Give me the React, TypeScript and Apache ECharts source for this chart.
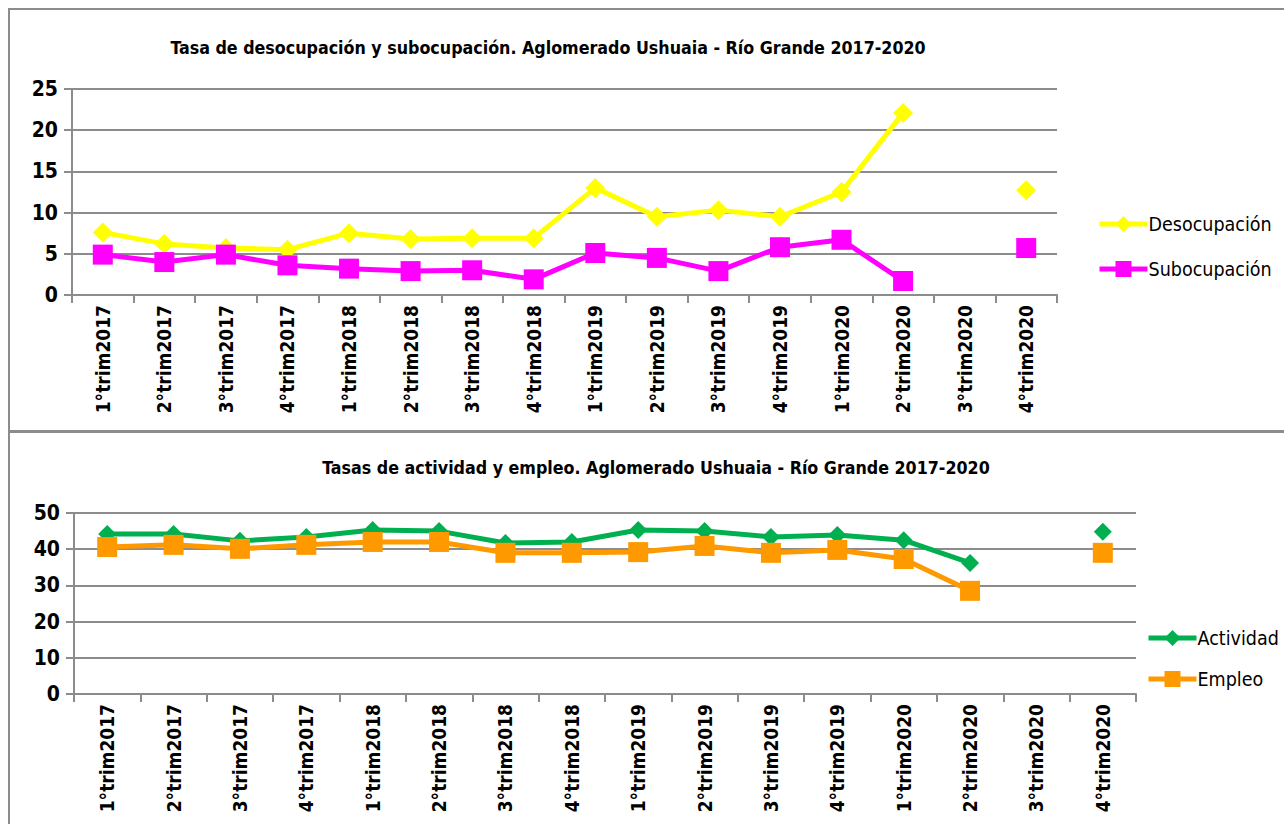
import React, { useEffect, useRef } from "react";
import * as echarts from "echarts";

const categories = [
  "1°trim2017", "2°trim2017", "3°trim2017", "4°trim2017",
  "1°trim2018", "2°trim2018", "3°trim2018", "4°trim2018",
  "1°trim2019", "2°trim2019", "3°trim2019", "4°trim2019",
  "1°trim2020", "2°trim2020", "3°trim2020", "4°trim2020",
];
const desocupacion = [7.6, 6.2, 5.7, 5.5, 7.5, 6.8, 6.9, 6.9, 13.0, 9.5, 10.3, 9.5, 12.5, 22.1, null, 12.7];
const subocupacion = [4.9, 4.0, 4.9, 3.6, 3.2, 2.9, 3.0, 1.9, 5.1, 4.5, 2.9, 5.8, 6.7, 1.7, null, 5.7];
const actividad = [44.2, 44.2, 42.3, 43.4, 45.3, 45.0, 41.7, 42.0, 45.3, 45.0, 43.4, 43.9, 42.5, 36.2, null, 44.8];
const empleo = [40.6, 41.2, 40.1, 41.2, 42.0, 42.0, 39.0, 39.0, 39.2, 40.9, 39.0, 39.8, 37.3, 28.5, null, 39.0];
const topTicks = [0, 5, 10, 15, 20, 25];
const bottomTicks = [0, 10, 20, 30, 40, 50];

const FONT = "'Liberation Sans Narrow', 'DejaVu Sans Condensed', 'Roboto', sans-serif";
const GRID_COLOR = "#8c8c8c";

export default function App() {
  const ref = useRef<HTMLDivElement>(null);
  useEffect(() => {
    if (!ref.current) return;
    const chart = echarts.init(ref.current, undefined, { renderer: "svg" });
    const xAxisBase = (gridIndex: number) => ({
      type: "category",
      gridIndex,
      data: categories,
      boundaryGap: true,
      axisLine: { show: true, lineStyle: { color: GRID_COLOR, width: 2 } },
      axisTick: { show: true, length: 8, lineStyle: { color: GRID_COLOR, width: 2 } },
      axisLabel: {
        rotate: 90,
        interval: 0,
        margin: 10,
        color: "#000",
        fontFamily: FONT,
        fontWeight: "bold",
        fontSize: 19,
      },
    });
    const yAxisBase = (gridIndex: number, ticks: number[]) => ({
      type: "value",
      gridIndex,
      min: ticks[0],
      max: ticks[ticks.length - 1],
      interval: ticks[1] - ticks[0],
      axisLine: { show: true, lineStyle: { color: GRID_COLOR, width: 2 } },
      axisTick: { show: true, length: 8, lineStyle: { color: GRID_COLOR, width: 2 } },
      splitLine: { show: true, lineStyle: { color: GRID_COLOR, width: 2 } },
      axisLabel: {
        color: "#000",
        fontFamily: FONT,
        fontWeight: "bold",
        fontSize: 21,
        margin: 14,
      },
    });
    const legendBase = {
      orient: "vertical",
      itemWidth: 48,
      itemHeight: 20,
      lineStyle: { width: 5 },
      textStyle: { fontFamily: FONT, fontSize: 19.5, color: "#000", padding: [0, 0, 0, -4] },
    };
    const option = {
      animation: false,
      backgroundColor: "#fff",
      title: [
        {
          text: "Tasa de desocupación y subocupación. Aglomerado Ushuaia - Río Grande 2017-2020",
          left: 543,
          top: 34,
          textAlign: "center",
          textStyle: { fontFamily: FONT, fontWeight: "bold", fontSize: 17.7, color: "#000" },
        },
        {
          text: "Tasas de actividad y empleo. Aglomerado Ushuaia - Río Grande 2017-2020",
          left: 651,
          top: 454,
          textAlign: "center",
          textStyle: { fontFamily: FONT, fontWeight: "bold", fontSize: 17.7, color: "#000" },
        },
      ],
      legend: [
        {
          ...legendBase,
          left: 1092,
          top: 209,
          itemGap: 25,
          data: ["Desocupación", "Subocupación"],
        },
        {
          ...legendBase,
          left: 1141,
          top: 623,
          itemGap: 21,
          data: ["Actividad", "Empleo"],
        },
      ],
      grid: [
        { left: 72, right: 227, top: 89, height: 206 },
        { left: 74, right: 148, top: 513, height: 181 },
      ],
      xAxis: [xAxisBase(0), xAxisBase(1)],
      yAxis: [yAxisBase(0, topTicks), yAxisBase(1, bottomTicks)],
      graphic: [
        {
          type: "rect",
          shape: { x: 9, y: 9, width: 1290, height: 422 },
          style: { fill: "none", stroke: "#8c8c8c", lineWidth: 2 },
          silent: true,
        },
        {
          type: "rect",
          shape: { x: 9, y: 432, width: 1290, height: 400 },
          style: { fill: "none", stroke: "#8c8c8c", lineWidth: 2 },
          silent: true,
        },
      ],
      series: [
        {
          name: "Desocupación",
          type: "line",
          xAxisIndex: 0,
          yAxisIndex: 0,
          data: desocupacion,
          connectNulls: false,
          symbol: "diamond",
          symbolSize: 20,
          itemStyle: { color: "#FFFF00" },
          lineStyle: { color: "#FFFF00", width: 5 },
        },
        {
          name: "Subocupación",
          type: "line",
          xAxisIndex: 0,
          yAxisIndex: 0,
          data: subocupacion,
          connectNulls: false,
          symbol: "rect",
          symbolSize: 20,
          itemStyle: { color: "#FF00FF" },
          lineStyle: { color: "#FF00FF", width: 5 },
        },
        {
          name: "Actividad",
          type: "line",
          xAxisIndex: 1,
          yAxisIndex: 1,
          data: actividad,
          connectNulls: false,
          symbol: "diamond",
          symbolSize: 18,
          itemStyle: { color: "#00B050" },
          lineStyle: { color: "#00B050", width: 5 },
        },
        {
          name: "Empleo",
          type: "line",
          xAxisIndex: 1,
          yAxisIndex: 1,
          data: empleo,
          connectNulls: false,
          symbol: "rect",
          symbolSize: 20,
          itemStyle: { color: "#FF9900" },
          lineStyle: { color: "#FF9900", width: 5 },
        },
      ],
    };
    chart.setOption(option as any);
    return () => chart.dispose();
  }, []);
  return (
    <div
      ref={ref}
      style={{ position: "absolute", left: 0, top: 0, width: 1284, height: 824, background: "#fff" }}
    />
  );
}
